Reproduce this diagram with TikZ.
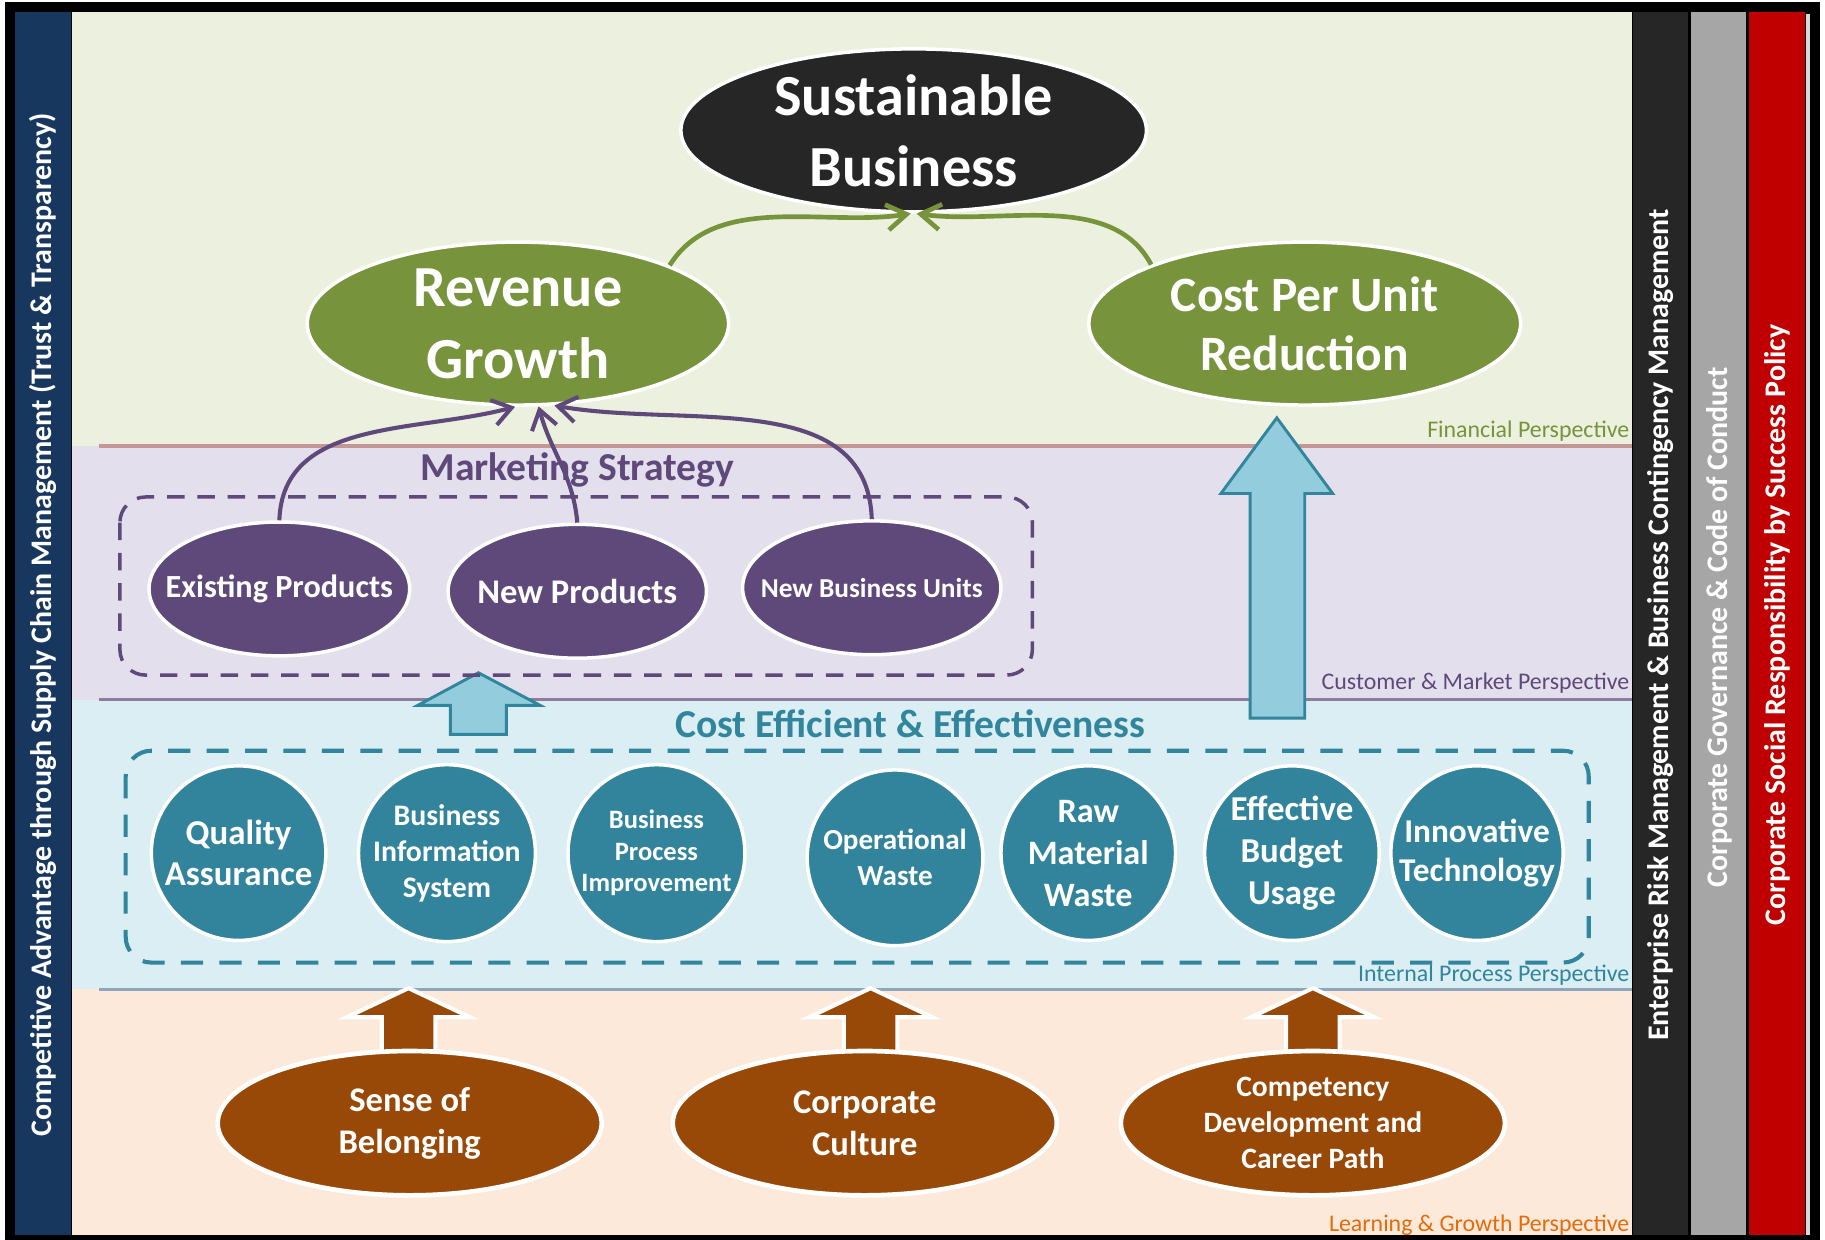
\documentclass[tikz,border=0pt]{standalone}
\usepackage{fontspec}
\setmainfont{Carlito}
\usetikzlibrary{shapes.geometric,arrows.meta}

\definecolor{fingreen}{HTML}{77933C}
\definecolor{mktpurple}{HTML}{5F497A}
\definecolor{procteal}{HTML}{31849B}
\definecolor{learnbrown}{HTML}{984807}
\definecolor{sbgrey}{HTML}{262626}
\definecolor{finband}{HTML}{EBF1DE}
\definecolor{mktband}{HTML}{E4DFEC}
\definecolor{procband}{HTML}{DAEEF3}
\definecolor{learnband}{HTML}{FDE9D9}
\definecolor{finline}{HTML}{C49796}
\definecolor{mktline}{HTML}{8B7D9B}
\definecolor{procline}{HTML}{8EA5BE}
\definecolor{cyanfill}{HTML}{93CDDD}
\definecolor{cyanedge}{HTML}{31859C}
\definecolor{learnorange}{HTML}{E46C0A}
\definecolor{leftblue}{HTML}{17375E}
\definecolor{govgrey}{HTML}{A6A6A6}
\definecolor{csrred}{HTML}{C00000}

\begin{document}
\begin{tikzpicture}[x=1pt,y=1pt,
  goal/.style={ellipse, draw=white, line width=3pt, text=white, align=center, inner sep=-30pt},
  fin/.style={goal, fill=fingreen, minimum height=140pt},
  mkt/.style={goal, fill=mktpurple, minimum width=222pt, minimum height=115pt},
  proc/.style={goal, fill=procteal, minimum size=150pt},
  learn/.style={goal, line width=4pt, fill=learnbrown, minimum width=330pt, minimum height=124pt},
  persp/.style={anchor=base east, inner sep=0pt, font=\fontsize{20.5}{24}\selectfont},
  sidetext/.style={rotate=90, text=white, inner sep=0pt, font=\fontsize{25.7}{29}\selectfont\bfseries},
  finarrow/.style={draw=fingreen, line width=4pt, -{Straight Barb[length=17pt,width=22pt]}},
  mktarrow/.style={draw=mktpurple, line width=3.5pt, -{Straight Barb[length=16pt,width=22pt]}},
  cyanblock/.style={fill=cyanfill, draw=cyanedge, line width=2.5pt, line join=miter},
  brownblock/.style={fill=learnbrown, draw=white, line width=3.5pt, line join=miter},
  groupbox/.style={line width=3pt, rounded corners=22pt}]

% frame and bars
\fill[white] (0,0) rectangle (1568,-1065);
\fill[black] (4,-2) rectangle (1564,-1065);
\fill[leftblue] (13,-10) rectangle (61,-1061);
\fill[sbgrey] (1403,-10) rectangle (1450,-1061);
\fill[govgrey] (1453,-10) rectangle (1500,-1061);
\fill[csrred] (1503,-10) rectangle (1551,-1061);
\fill[gray!30] (1552,-12) rectangle (1555,-1061);

% perspective bands
\fill[finband] (62,-10) rectangle (1402,-383);
\fill[mktband] (62,-383) rectangle (1402,-601);
\fill[procband] (62,-601) rectangle (1402,-850);
\fill[learnband] (62,-850) rectangle (1402,-1061);
\draw[finline, line width=3pt] (85,-383) -- (1402,-383);
\draw[mktline, line width=3pt] (85,-601) -- (1402,-601);
\draw[procline, line width=3pt] (85,-850) -- (1402,-850);

\node[persp, text=fingreen] (finlbl) at (1400,-376) {Financial Perspective};
\node[persp, text=mktpurple] (mktlbl) at (1400,-592) {Customer \& Market Perspective};
\node[persp, text=cyanedge] (proclbl) at (1400,-843) {Internal Process Perspective};
\node[persp, text=learnorange] (learnlbl) at (1400,-1058) {Learning \& Growth Perspective};

% side bars
\node[sidetext] (scm) at (37,-537) {Competitive Advantage through Supply Chain Management (Trust \& Transparency)};
\node[sidetext] (erm) at (1427,-537) {Enterprise Risk Management \& Business Contingency Management};
\node[sidetext] (gov) at (1477,-539) {Corporate Governance \& Code of Conduct};
\node[sidetext] (csr) at (1527,-537) {Corporate Social Responsibility by Success Policy};

% block arrows
\draw[cyanblock] (411,-578) -- (464,-606) -- (435,-606) -- (435,-631) -- (387,-631) -- (387,-606) -- (359,-606) -- cycle;
\draw[cyanblock] (1097,-359) -- (1145,-424) -- (1121,-424) -- (1121,-617) -- (1074,-617) -- (1074,-424) -- (1049,-424) -- cycle;
\foreach \x in {351,748,1128}
  \draw[brownblock] (\x,-849) -- ++(53,-25) -- ++(-30,0) -- ++(0,-40) -- ++(-46,0) -- ++(0,40) -- ++(-30,0) -- cycle;

% financial
\node[fin, fill=sbgrey, minimum width=400pt, font=\fontsize{50}{61}\selectfont\bfseries] (sb) at (785,-112) {Sustainable\\Business};
\node[fin, minimum width=362pt, font=\fontsize{50}{62}\selectfont\bfseries] (rev) at (445,-278) {Revenue\\Growth};
\node[fin, minimum width=371pt, font=\fontsize{42.5}{51}\selectfont\bfseries] (cost) at (1121,-278) {Cost Per Unit\\Reduction};

% customer & market
\node[font=\fontsize{34}{38}\selectfont\bfseries, text=mktpurple] (mktstr) at (496,-404) {Marketing Strategy};
\draw[groupbox, mktpurple, dash pattern=on 15pt off 11pt] (103,-427) rectangle (887,-580);
\node[mkt, minimum width=224pt, font=\fontsize{27.7}{32}\selectfont\bfseries] (ep) at (240,-506) {Existing Products};
\node[mkt, font=\fontsize{29.7}{34}\selectfont\bfseries] (np) at (496,-508) {New Products};
\node[mkt, font=\fontsize{23.5}{27}\selectfont\bfseries] (nbu) at (749,-505) {New Business Units};

% internal process
\node[font=\fontsize{34}{38}\selectfont\bfseries, text=cyanedge] (cee) at (782,-622) {Cost Efficient \& Effectiveness};
\draw[groupbox, cyanedge, line width=3.5pt, dash pattern=on 19pt off 14pt] (108,-645) rectangle (1365,-827);
\node[proc, font=\fontsize{30}{35}\selectfont\bfseries] (qa) at (205,-733) {Quality\\Assurance};
\node[proc, minimum size=152pt, font=\fontsize{25.6}{31}\selectfont\bfseries] (bis) at (384,-733) {Business\\Information\\System};
\node[proc, minimum size=152pt, font=\fontsize{22.8}{27}\selectfont\bfseries] (bpi) at (564,-733) {Business\\Process\\Improvement};
\node[proc, minimum size=151pt, font=\fontsize{25}{31}\selectfont\bfseries] (ow) at (769,-737) {Operational\\Waste};
\node[proc, font=\fontsize{29.4}{36}\selectfont\bfseries] (rmw) at (935,-733) {Raw\\Material\\Waste};
\node[proc, font=\fontsize{30}{36}\selectfont\bfseries] (ebu) at (1110,-733) {Effective\\Budget\\Usage};
\node[proc, minimum width=148pt, font=\fontsize{28.6}{34}\selectfont\bfseries] (it) at (1269,-733) {Innovative\\Technology};

% learning & growth
\node[learn, font=\fontsize{29.7}{36}\selectfont\bfseries] (sob) at (352,-965) {Sense of\\Belonging};
\node[learn, font=\fontsize{29.7}{36}\selectfont\bfseries] (cc) at (743,-965) {Corporate\\Culture};
\node[learn, font=\fontsize{25.4}{31}\selectfont\bfseries] (cdcp) at (1128,-965) {Competency\\Development and\\Career Path};

% connectors
\draw[finarrow] (rev.21) to[out=58,in=189,looseness=0.9] (sb.268);
\draw[finarrow] (cost.159) to[out=118,in=-8,looseness=0.9] (sb.272);
\draw[mktarrow] (ep.north) to[out=88,in=195] (rev.268);
\draw[mktarrow] (np.north) to[out=95,in=-75] (rev.284);
\draw[mktarrow] (nbu.north) to[out=92,in=-10] (rev.294);
\end{tikzpicture}
\end{document}
